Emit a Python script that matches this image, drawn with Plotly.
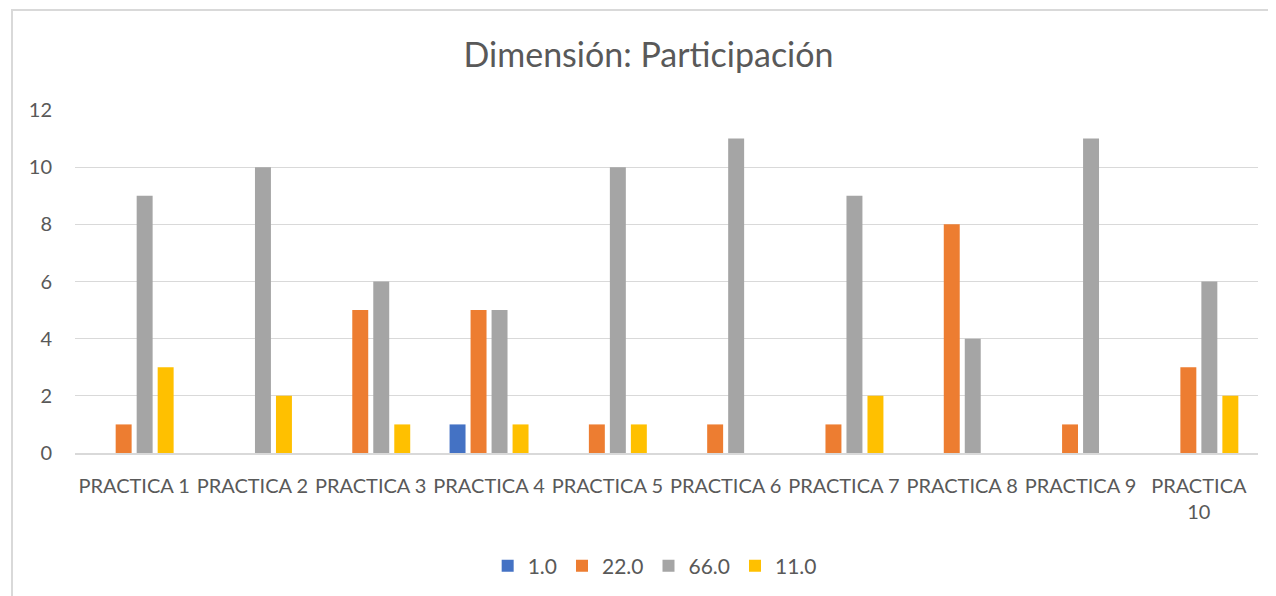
import plotly.graph_objects as go

categories = ['PRACTICA 1', 'PRACTICA 2', 'PRACTICA 3', 'PRACTICA 4', 'PRACTICA 5',
              'PRACTICA 6', 'PRACTICA 7', 'PRACTICA 8', 'PRACTICA 9', 'PRACTICA<br>10']
serie_1 = [0, 0, 0, 1, 0, 0, 0, 0, 0, 0]
serie_22 = [1, 0, 5, 5, 1, 1, 1, 8, 1, 3]
serie_66 = [9, 10, 6, 5, 10, 11, 9, 4, 11, 6]
serie_11 = [3, 2, 1, 1, 1, 0, 2, 0, 0, 2]

series = [('1.0', serie_1, '#4472C4'),
          ('22.0', serie_22, '#ED7D31'),
          ('66.0', serie_66, '#A5A5A5'),
          ('11.0', serie_11, '#FFC000')]

fig = go.Figure()
for name, vals, color in series:
    fig.add_trace(go.Bar(x=list(range(len(categories))), y=vals, name=name,
                         marker_color=color, marker_line_width=0))

txt = '#595959'
# the page body adds an 8px offset, margins are shifted to compensate
fig.update_layout(
    width=1276, height=596,
    barmode='group', bargap=0.29, bargroupgap=0.24,
    paper_bgcolor='white', plot_bgcolor='white',
    font=dict(family='Lato, Open Sans, sans-serif', size=20, color=txt),
    title=dict(text='Dimensión: Participación', x=0.502, xanchor='center',
               y=1 - 47 / 596, yanchor='middle', yref='container',
               font=dict(size=34, color=txt)),
    margin=dict(l=67, r=26, t=102, b=151),
    showlegend=True,
    legend=dict(orientation='h', x=0.49, xanchor='center', y=-0.33, yanchor='middle',
                font=dict(size=21, color=txt), traceorder='normal'),
    shapes=[dict(type='rect', xref='paper', yref='paper',
                 x0=-63 / 1183, x1=1.2, y0=-0.6, y1=1 + 100 / 343,
                 line=dict(color='#D9D9D9', width=2), fillcolor='rgba(0,0,0,0)')],
)
fig.update_xaxes(tickmode='array', tickvals=list(range(len(categories))), ticktext=categories,
                 range=[-0.5, len(categories) - 0.5], showgrid=False, zeroline=False,
                 showline=True, linecolor='#D9D9D9', linewidth=2, ticks='', tickangle=0,
                 ticklabelstandoff=14, tickfont=dict(size=20, color=txt))
fig.update_yaxes(range=[0, 12], dtick=2, showgrid=True, gridcolor='#D9D9D9', gridwidth=1,
                 zeroline=False, showline=False, ticks='', ticklabelstandoff=22,
                 tickfont=dict(size=20, color=txt))

fig.write_html('out.html')
